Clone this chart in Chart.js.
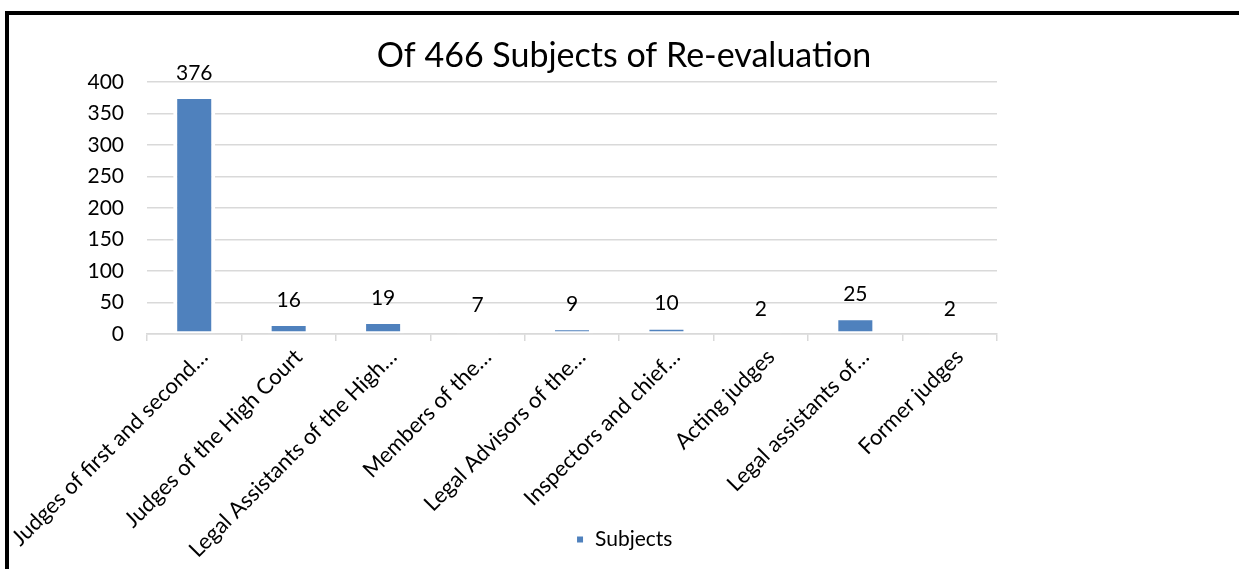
<!DOCTYPE html>
<html>
<head>
<meta charset="utf-8">
<title>Of 466 Subjects of Re-evaluation</title>
<script src="https://cdn.jsdelivr.net/npm/chart.js@4.4.1/dist/chart.umd.min.js"></script>
<style>
    html, body { margin: 0; padding: 0; background: #fff; overflow: hidden; }
    #wrap { position: relative; width: 1239px; height: 569px; }
    #frame {
        position: absolute; left: 5px; top: 11px; width: 1400px; height: 700px;
        border-left: 4px solid #000; border-top: 4px solid #000; pointer-events: none;
    }
</style>
</head>
<body>
<div id="wrap">
    <canvas id="chart"></canvas>
    <div id="frame"></div>
</div>
<script>

// data
const categories = [
    "Judges of first and second…",
    "Judges of the High Court",
    "Legal Assistants of the High…",
    "Members of the…",
    "Legal Advisors of the…",
    "Inspectors and chief…",
    "Acting judges",
    "Legal assistants of…",
    "Former judges"
];
const subjects = [376, 16, 19, 7, 9, 10, 2, 25, 2];
const yTicks = [0, 50, 100, 150, 200, 250, 300, 350, 400];

const FONT = "Lato, 'Open Sans', sans-serif";


// value labels above the bars
const barLabels = {
    id: "barLabels",
    afterDatasetsDraw(chart) {
        const ctx = chart.ctx;
        const meta = chart.getDatasetMeta(0);
        ctx.save();
        ctx.font = "21px " + FONT;
        ctx.fillStyle = "#000";
        ctx.textAlign = "center";
        ctx.textBaseline = "middle";
        meta.data.forEach(function (bar, i) {
            ctx.fillText(String(subjects[i]), bar.x, bar.y - 24);
        });
        ctx.restore();
    }
};

// the rotated category labels run down past the legend, so let them
const longLabels = {
    id: "longLabels",
    afterLayout(chart) {
        chart.scales.x.bottom = chart.height;
    }
};


window.onload = function () {

    const ctx = document.getElementById("chart").getContext("2d");

    new Chart(ctx, {
        type: "bar",
        data: {
            labels: categories,
            datasets: [{
                label: "Subjects",
                data: subjects,
                backgroundColor: "#4F81BD",
                borderColor: "#ffffff",
                borderWidth: { left: 4, right: 4, top: 2, bottom: 2 },
                borderSkipped: false,
                barPercentage: 0.445,
                categoryPercentage: 1
            }]
        },
        options: {
            responsive: true,
            maintainAspectRatio: false,
            animation: false,
            layout: { padding: { left: 9, right: 0, top: 36, bottom: 9 } },
            plugins: {
                title: {
                    display: true,
                    text: "Of 466 Subjects of Re-evaluation",
                    color: "#000",
                    font: { family: FONT, size: 34, weight: "normal" },
                    padding: { top: 0, bottom: 5 }
                },
                legend: {
                    position: "bottom",
                    labels: {
                        color: "#000",
                        font: { family: FONT, size: 21 },
                        boxWidth: 9,
                        boxHeight: 9,
                        padding: 10
                    }
                },
                tooltip: { enabled: false }
            },
            scales: {
                x: {
                    z: 1,
                    grid: {
                        offset: true,
                        drawOnChartArea: false,
                        drawTicks: true,
                        tickLength: 7,
                        color: "#d9d9d9",
                        lineWidth: 1.5
                    },
                    border: { display: true, color: "#d9d9d9", width: 1.5 },
                    ticks: {
                        autoSkip: false,
                        maxRotation: 45,
                        minRotation: 45,
                        padding: 3,
                        labelOffset: 10,
                        color: "#000",
                        font: { family: FONT, size: 22 }
                    },
                    afterFit(scale) {
                        scale.height = 185;
                        scale.paddingLeft = 0;
                        scale.paddingRight = 0;
                    }
                },
                y: {
                    min: 0,
                    max: 400,
                    afterBuildTicks(scale) {
                        scale.ticks = yTicks.map(function (v) { return { value: v }; });
                    },
                    grid: { drawTicks: false, color: "#d9d9d9", lineWidth: 1.5 },
                    border: { display: false },
                    ticks: {
                        padding: 23,
                        color: "#000",
                        font: { family: FONT, size: 21 }
                    },
                    afterFit(scale) { scale.width = 138; }
                },
                yRight: {
                    position: "right",
                    grid: { display: false },
                    border: { display: false },
                    ticks: { display: false },
                    afterFit(scale) { scale.width = 242; }
                }
            }
        },
        plugins: [barLabels, longLabels]
    });

};

</script>
</body>
</html>
